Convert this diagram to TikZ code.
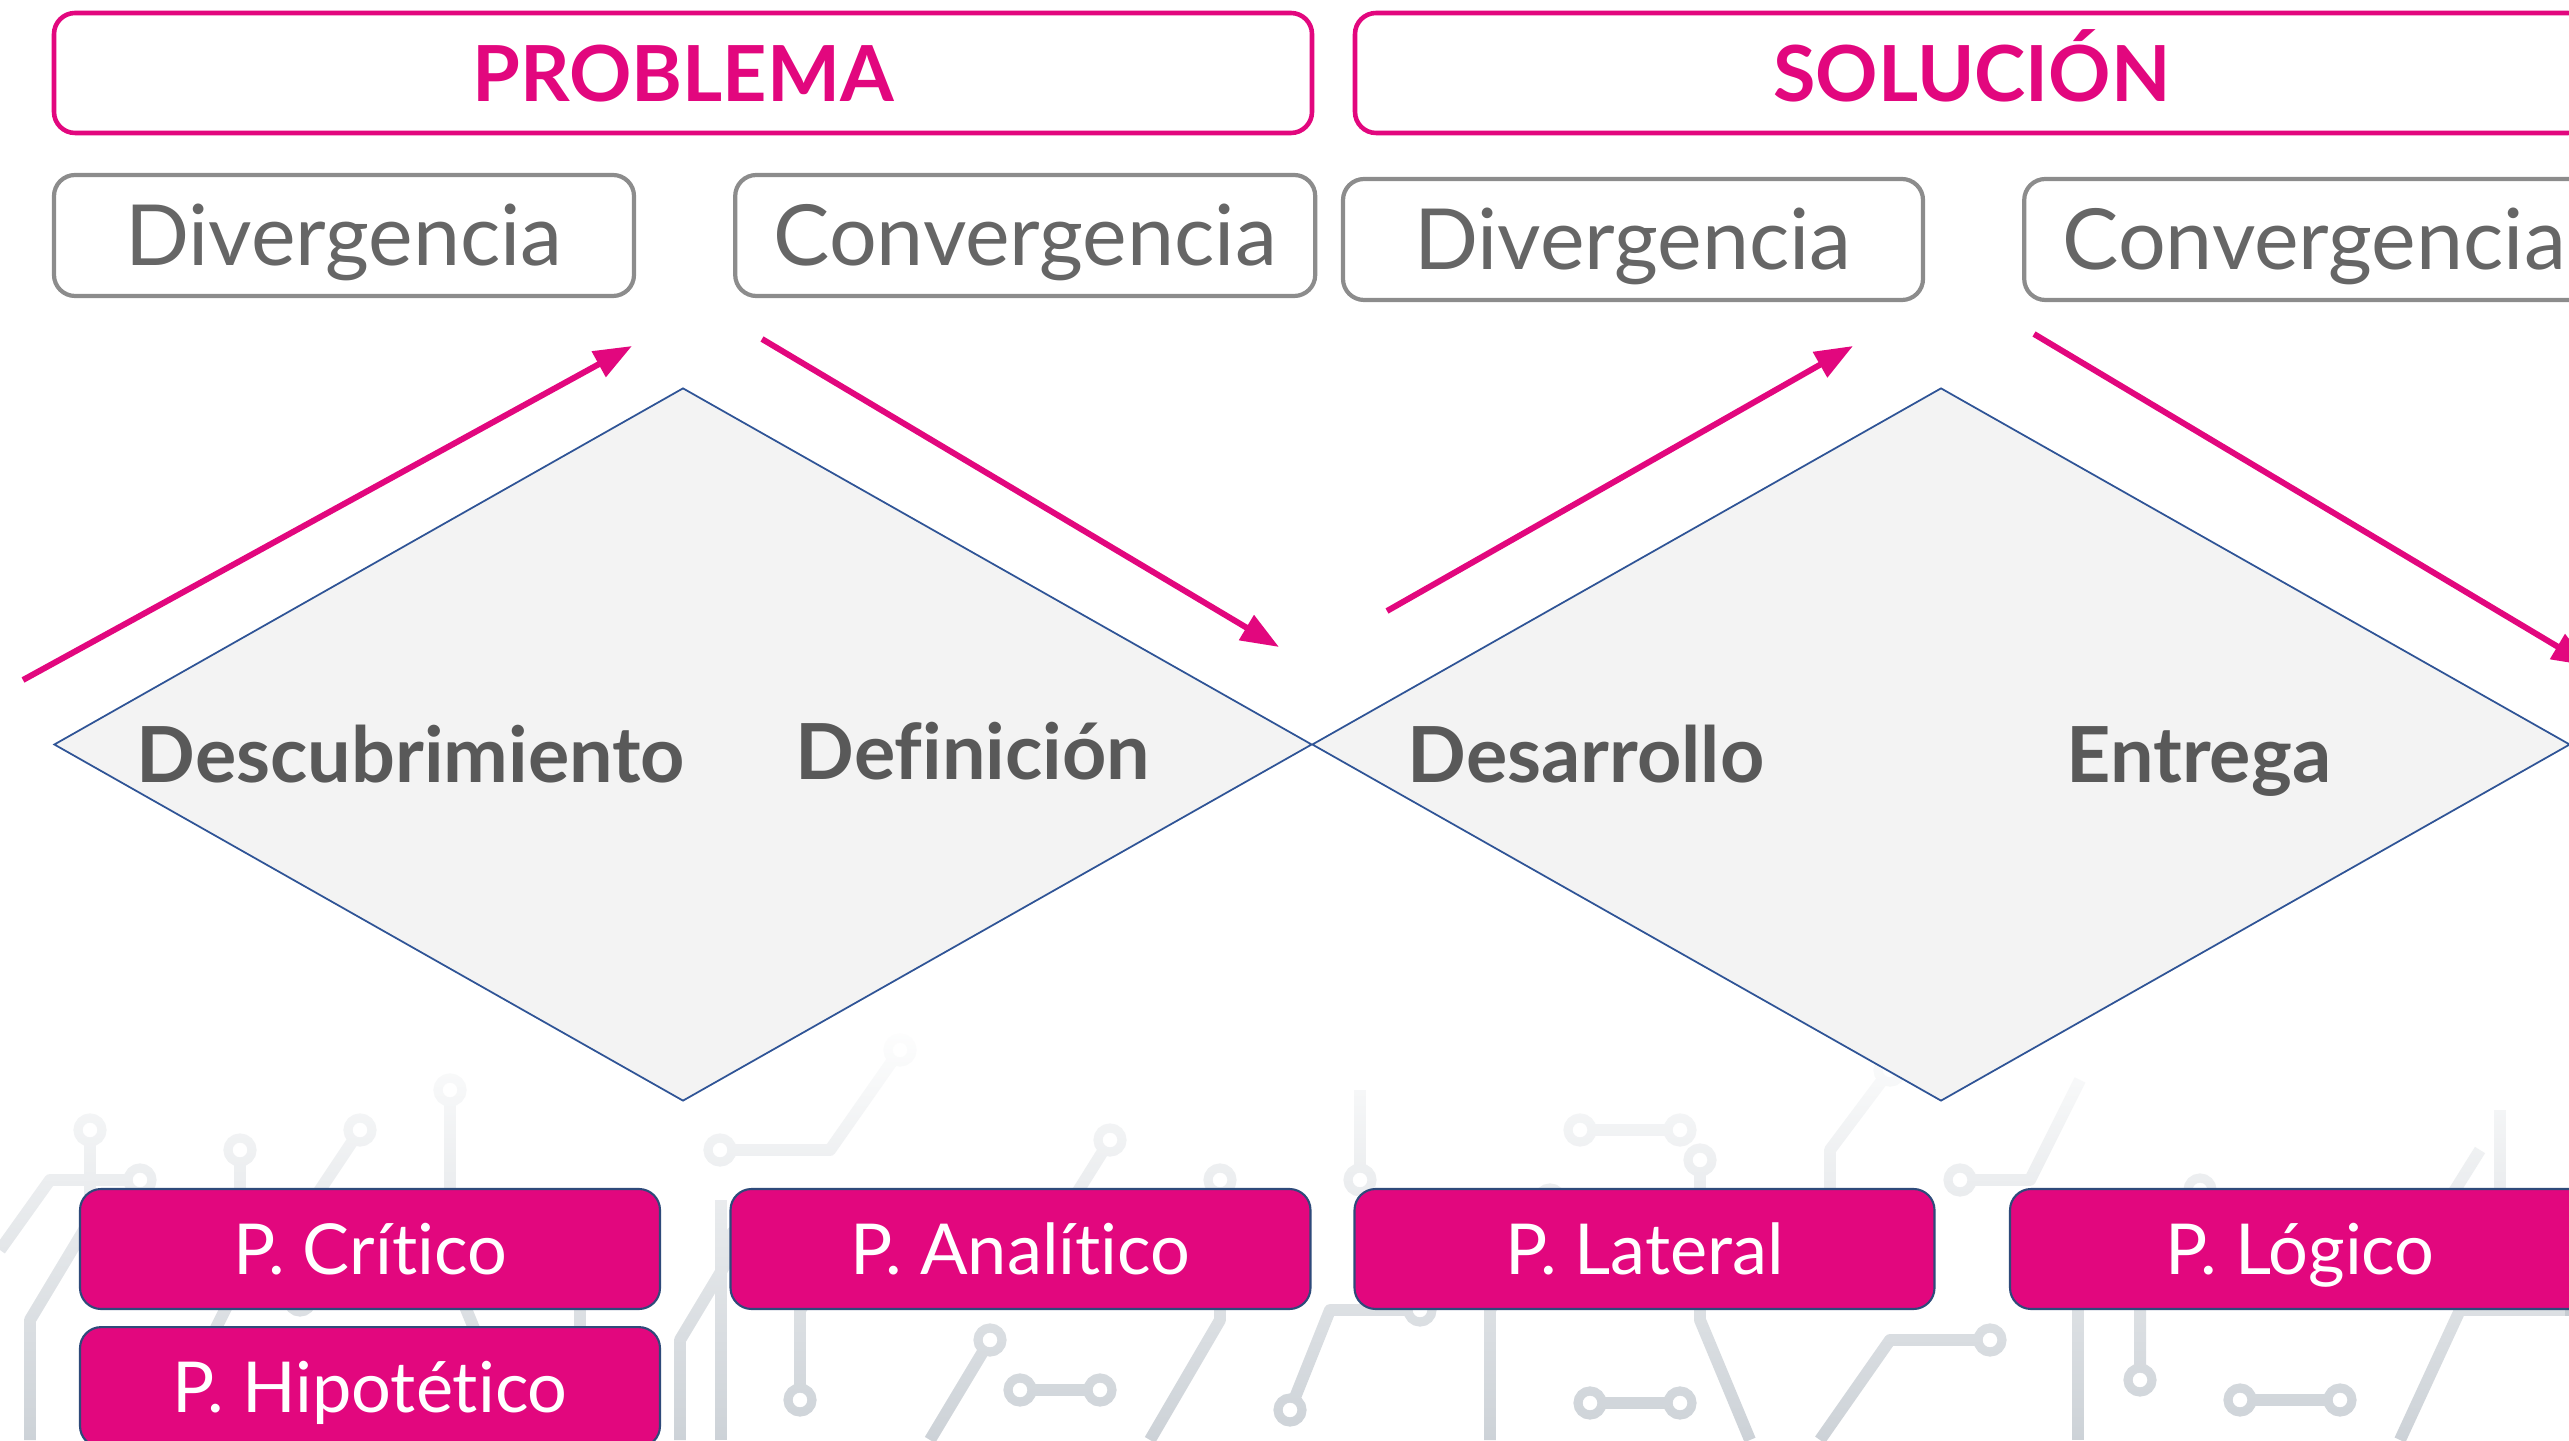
\documentclass[tikz,border=0pt]{standalone}
\usepackage{fontspec}
\setmainfont{Lato}[Ligatures=NoCommon]
\usetikzlibrary{arrows.meta,positioning,shapes.geometric,fadings}
\definecolor{brand}{HTML}{E2077E}
\definecolor{boxgray}{HTML}{8C8C8C}
\definecolor{txtgray}{HTML}{666666}
\definecolor{stagegray}{HTML}{595959}
\definecolor{diamfill}{HTML}{F3F3F3}
\definecolor{diamblue}{HTML}{2F5496}
\definecolor{toolline}{HTML}{2E4A7A}
\definecolor{circuit}{HTML}{C6CCD2}
\tikzset{
    header/.style={
        draw=brand,
        line width=1.3pt,
        rounded corners=6pt,
        minimum width=12.58cm,
        minimum height=1.2cm,
        text height=16pt,
        text depth=0pt,
        text=brand,
        font=\fontsize{22}{26}\selectfont\bfseries
    },
    phase/.style={
        draw=boxgray,
        line width=1.2pt,
        rounded corners=6pt,
        minimum width=5.8cm,
        minimum height=1.21cm,
        text height=17pt,
        text depth=0pt,
        text=txtgray,
        font=\fontsize{24}{28}\selectfont
    },
    diam/.style={
        diamond,
        draw=diamblue,
        fill=diamfill,
        line width=0.5pt,
        inner sep=0pt,
        minimum width=12.58cm,
        minimum height=7.13cm
    },
    stage/.style={
        anchor=base,
        text=stagegray,
        font=\fontsize{22}{26}\selectfont\bfseries
    },
    tool/.style={
        draw=toolline,
        fill=brand,
        line width=0.6pt,
        rounded corners=6pt,
        minimum width=5.8cm,
        minimum height=1.2cm,
        text height=14.5pt,
        text depth=0pt,
        text=white,
        font=\fontsize{20}{24}\selectfont
    },
    flow/.style={
        -{Triangle[length=3.8mm,width=2.8mm]},
        draw=brand,
        line width=1.7pt
    },
    trace/.style={draw=circuit, line width=3.4pt, line join=round},
    pad/.style={draw=circuit, line width=2.6pt, fill=white}
}
\tikzfading[name=whiteveil, top color=transparent!0, bottom color=transparent!100]

\begin{document}
\begin{tikzpicture}
\useasboundingbox (0,0) rectangle (25.69,14.40);
\clip (0,0) rectangle (25.69,14.40);

% circuit board backdrop
\draw[trace] (0.3,0) -- (0.3,1.2) -- (0.9,2.2) -- (0.9,3.1);
\draw[trace] (0,1.9) -- (0.5,2.6) -- (1.4,2.6);
\draw[trace] (1.6,0) -- (2.4,1.6) -- (2.4,2.9);
\draw[trace] (2.9,0.3) -- (3.5,0.3);
\draw[trace] (3.0,1.4) -- (3.0,2.2) -- (3.6,3.1);
\draw[trace] (5.2,0) -- (4.5,1.7) -- (4.5,3.5);
\draw[trace] (5.8,0.5) -- (5.8,1.5) -- (6.3,2.3);
\draw[trace] (6.8,0) -- (6.8,1.0) -- (7.4,2.0);
\draw[trace] (7.2,2.9) -- (8.3,2.9) -- (9.0,3.9);
\draw[trace] (7.21,0) -- (7.21,2.4);
\draw[trace] (8.0,0.4) -- (8.0,1.3) -- (8.6,2.1);
\draw[trace] (9.3,0) -- (9.9,1.0);
\draw[trace] (9.6,2.2) -- (10.6,2.2) -- (11.1,3.0);
\draw[trace] (10.2,0.5) -- (11.0,0.5);
\draw[trace] (11.5,0) -- (12.2,1.2) -- (12.2,2.6);
\draw[trace] (12.9,0.3) -- (13.3,1.3) -- (14.2,1.3);
\draw[trace] (13.6,2.6) -- (13.6,3.5);
\draw[trace] (14.9,0) -- (14.9,1.3) -- (15.5,2.4);
\draw[trace] (15.9,0.37) -- (16.8,0.37);
\draw[trace] (15.8,3.1) -- (16.8,3.1);
\draw[trace] (17.5,0) -- (17.0,1.2) -- (17.0,2.8);
\draw[trace] (18.2,0) -- (18.9,1.0) -- (19.9,1.0);
\draw[trace] (18.3,1.9) -- (18.3,2.9) -- (18.9,3.7);
\draw[trace] (19.6,2.6) -- (20.3,2.6) -- (20.8,3.6);
\draw[trace] (20.78,0) -- (20.78,1.8);
\draw[trace] (21.4,0.6) -- (21.4,1.6) -- (22.0,2.5);
\draw[trace] (22.4,0.4) -- (23.4,0.4);
\draw[trace] (23.3,2.1) -- (24.3,2.1) -- (24.8,2.9);
\draw[trace] (24.0,0) -- (24.6,1.3) -- (25.69,1.3);
\draw[trace] (25.0,2.2) -- (25.0,3.3);
\foreach \p in {(0.9,3.1),(1.4,2.6),(2.4,2.9),(2.9,0.3),(3.5,0.3),(3.0,1.4),
                (3.6,3.1),(4.5,3.5),(5.8,0.5),(6.3,2.3),(7.4,2.0),(7.2,2.9),
                (9.0,3.9),(8.0,0.4),(9.9,1.0),(9.6,2.2),(11.1,3.0),(10.2,0.5),
                (11.0,0.5),(12.2,2.6),(12.9,0.3),(14.2,1.3),(13.6,2.6),(15.5,2.4),
                (15.9,0.37),(16.8,0.37),(15.8,3.1),(16.8,3.1),(17.0,2.8),(19.9,1.0),
                (18.3,1.9),(18.9,3.7),(19.6,2.6),(21.4,0.6),(22.0,2.5),(22.4,0.4),
                (23.4,0.4),(23.3,2.1),(25.0,2.2)}
    \draw[pad] \p circle (0.12);
\fill[white, path fading=whiteveil] (0,-0.6) rectangle (25.69,4.2);

% headers
\node[header] (problema) at (6.83,13.67) {PROBLEMA};
\node[header, minimum width=12.34cm] (solucion) at (19.72,13.67) {SOLUCIÓN};

\node[phase] (div1) at (3.44,12.045) {Divergencia};
\node[phase, right=0.97cm of div1] (conv1) {Convergencia};
\node[phase] (div2) at (16.33,12.005) {Divergencia};
\node[phase, right=0.97cm of div2] (conv2) {Convergencia};

% double diamond
\node[diam] (diam1) at (6.83,6.955) {};
\node[diam] (diam2) at (19.41,6.955) {};

\node[stage] (descub) at (4.11,6.57) {Descubrimiento};
\node[stage] (defin) at (9.73,6.60) {Definición};
\node[stage] (desarr) at (15.86,6.57) {Desarrollo};
\node[stage] (entrega) at (21.99,6.57) {Entrega};

% arrows
\coordinate (a1s) at (0.23,7.60);
\coordinate (a1e) at (6.32,10.94);
\coordinate (a2s) at (7.62,11.01);
\coordinate (a2e) at (12.79,7.93);
\coordinate (a3s) at (13.87,8.29);
\coordinate (a3e) at (18.53,10.94);
\coordinate (a4s) at (20.34,11.06);
\coordinate (a4e) at (25.90,7.74);
\draw[flow] (a1s) -- (a1e);
\draw[flow] (a2s) -- (a2e);
\draw[flow] (a3s) -- (a3e);
\draw[flow] (a4s) -- (a4e);

% thinking tools
\node[tool] (critico) at (3.70,1.91) {P. Crítico};
\node[tool, below=0.16cm of critico] (hipotetico) {P. Hipotético};
\node[tool] (analitico) at (10.205,1.91) {P. Analítico};
\node[tool] (lateral) at (16.445,1.91) {P. Lateral};
\node[tool] (logico) at (23.0,1.91) {P. Lógico};

\end{tikzpicture}
\end{document}
